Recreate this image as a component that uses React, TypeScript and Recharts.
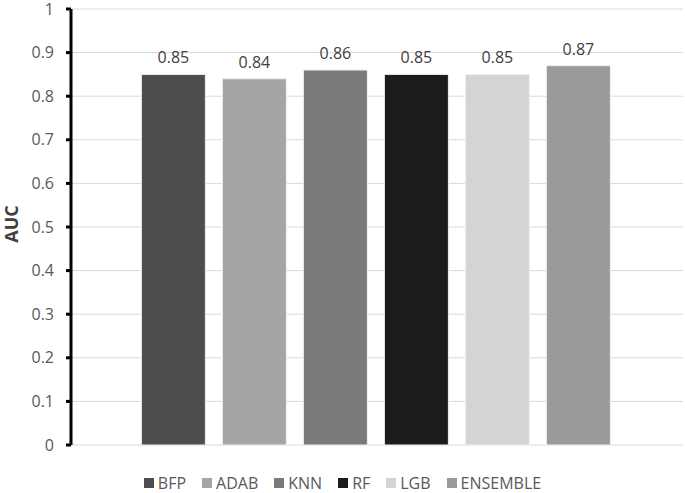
import React from 'react';
import { BarChart, Bar, XAxis, YAxis, CartesianGrid, Legend, LabelList } from 'recharts';

const seriesNames = ['BFP', 'ADAB', 'KNN', 'RF', 'LGB', 'ENSEMBLE'];
const aucValues = [0.85, 0.84, 0.86, 0.85, 0.85, 0.87];
const seriesColors = ['#4d4d4d', '#a5a5a5', '#7a7a7a', '#1c1c1c', '#d4d4d4', '#9a9a9a'];
const yTicks = [0, 0.1, 0.2, 0.3, 0.4, 0.5, 0.6, 0.7, 0.8, 0.9, 1];

const row: Record<string, any> = { name: 'AUC' };
seriesNames.forEach((n, i) => {
  row[n] = aucValues[i];
});
const data = [row];

const FONT = '"Open Sans", "Noto Sans", sans-serif';

const LegendContent = () => (
  <div
    style={{
      display: 'flex',
      justifyContent: 'center',
      alignItems: 'center',
      gap: 16,
      fontFamily: FONT,
      fontSize: 16,
      lineHeight: '22px',
      color: '#595959',
      width: 685,
    }}
  >
    {seriesNames.map((n, i) => (
      <div key={n} style={{ display: 'flex', alignItems: 'center' }}>
        <div style={{ width: 10, height: 10, background: seriesColors[i], marginRight: 4 }} />
        <span style={{ whiteSpace: 'nowrap' }}>{n}</span>
      </div>
    ))}
  </div>
);

export default function App() {
  return (
    <div style={{ position: 'absolute', left: 0, top: 0, background: '#fff' }}>
      <BarChart
        width={685}
        height={493}
        data={data}
        margin={{ top: 9, right: 2, bottom: 48, left: 0 }}
        barCategoryGap="11.5%"
        barGap={17}
      >
        <CartesianGrid vertical={false} stroke="#d9d9d9" strokeWidth={1} />
        <XAxis
          dataKey="name"
          tick={false}
          tickLine={false}
          height={0}
          axisLine={{ stroke: '#000', strokeWidth: 3 }}
        />
        <YAxis
          width={71}
          domain={[0, 1]}
          ticks={yTicks}
          interval={0}
          axisLine={{ stroke: '#000', strokeWidth: 3 }}
          tickLine={{ stroke: '#000', strokeWidth: 3 }}
          tickSize={5}
          tickMargin={12}
          tick={{ fontFamily: FONT, fontSize: 16, fill: '#595959' }}
          label={{
            value: 'AUC',
            angle: -90,
            position: 'insideLeft',
            offset: 12,
            dy: -3,
            style: { fontFamily: FONT, fontSize: 18, fontWeight: 'bold', fill: '#404040', textAnchor: 'middle' },
          }}
        />
        <Legend
          verticalAlign="middle"
          align="center"
          layout="horizontal"
          content={<LegendContent />}
          wrapperStyle={{ top: 472, left: 0, width: 685 }}
        />
        {seriesNames.map((n, i) => (
          <Bar
            key={n}
            dataKey={n}
            fill={seriesColors[i]}
            stroke="#f0f0f0"
            strokeWidth={1}
            isAnimationActive={false}
          >
            <LabelList
              dataKey={n}
              position="top"
              offset={11}
              style={{ fontFamily: FONT, fontSize: 16, fill: '#404040' }}
            />
          </Bar>
        ))}
      </BarChart>
    </div>
  );
}
